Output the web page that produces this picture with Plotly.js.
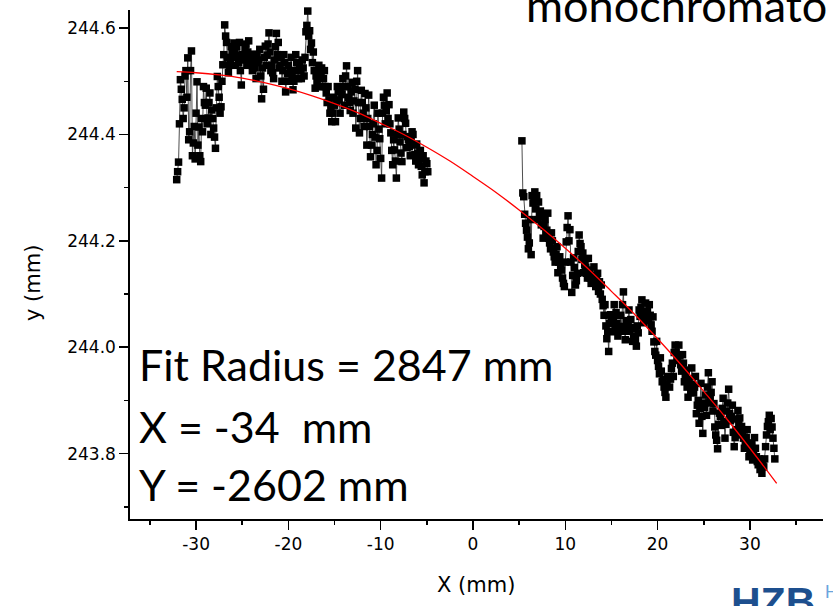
<!DOCTYPE html>
<html>
<head>
<meta charset="utf-8">
<script src="https://cdn.plot.ly/plotly-3.0.1.min.js"></script>
<style>html,body{margin:0;padding:0;background:#fff;}#chart{width:833px;height:606px;}</style>
</head>
<body>
<div id="chart"></div>
<script>
// Left scan segment (X in mm, y in mm)
const leftX = [-32.1,-32.0,-31.9,-31.8,-31.7,-31.6,-31.5,-31.4,-31.3,-31.2,-31.1,-31.0,-30.9,-30.8,-30.7,-30.6,-30.5,-30.4,-30.3,-30.2,-30.1,-30.0,-29.9,-29.8,-29.7,-29.6,-29.5,-29.4,-29.3,-29.2,-29.1,-29.0,-28.9,-28.8,-28.7,-28.6,-28.5,-28.4,-28.3,-28.2,-28.1,-28.0,-27.9,-27.8,-27.7,-27.6,-27.5,-27.4,-27.3,-27.2,-27.1,-27.0,-26.9,-26.8,-26.7,-26.6,-26.5,-26.4,-26.3,-26.2,-26.1,-26.0,-25.9,-25.8,-25.7,-25.6,-25.5,-25.4,-25.3,-25.2,-25.1,-25.0,-24.9,-24.8,-24.7,-24.6,-24.5,-24.4,-24.3,-24.2,-24.1,-24.0,-23.9,-23.8,-23.7,-23.6,-23.5,-23.4,-23.3,-23.2,-23.1,-23.0,-22.9,-22.8,-22.7,-22.6,-22.5,-22.4,-22.3,-22.2,-22.1,-22.0,-21.9,-21.8,-21.7,-21.6,-21.5,-21.4,-21.3,-21.2,-21.1,-21.0,-20.9,-20.8,-20.7,-20.6,-20.5,-20.4,-20.3,-20.2,-20.1,-20.0,-19.9,-19.8,-19.7,-19.6,-19.5,-19.4,-19.3,-19.2,-19.1,-19.0,-18.9,-18.8,-18.7,-18.6,-18.5,-18.4,-18.3,-18.2,-18.1,-18.0,-17.9,-17.8,-17.7,-17.6,-17.5,-17.4,-17.3,-17.2,-17.1,-17.0,-16.9,-16.8,-16.7,-16.6,-16.5,-16.4,-16.3,-16.2,-16.1,-16.0,-15.9,-15.8,-15.7,-15.6,-15.5,-15.4,-15.3,-15.2,-15.1,-15.0,-14.9,-14.8,-14.7,-14.6,-14.5,-14.4,-14.3,-14.2,-14.1,-14.0,-13.9,-13.8,-13.7,-13.6,-13.5,-13.4,-13.3,-13.2,-13.1,-13.0,-12.9,-12.8,-12.7,-12.6,-12.5,-12.4,-12.3,-12.2,-12.1,-12.0,-11.9,-11.8,-11.7,-11.6,-11.5,-11.4,-11.3,-11.2,-11.1,-11.0,-10.9,-10.8,-10.7,-10.6,-10.5,-10.4,-10.3,-10.2,-10.1,-10.0,-9.9,-9.8,-9.7,-9.6,-9.5,-9.4,-9.3,-9.2,-9.1,-9.0,-8.9,-8.8,-8.7,-8.6,-8.5,-8.4,-8.3,-8.2,-8.1,-8.0,-7.9,-7.8,-7.7,-7.6,-7.5,-7.4,-7.3,-7.2,-7.1,-7.0,-6.9,-6.8,-6.7,-6.6,-6.5,-6.4,-6.3,-6.2,-6.1,-6.0,-5.9,-5.8,-5.7,-5.6,-5.5,-5.4,-5.3,-5.2,-5.1,-5.0,-4.9];
const leftY = [244.315,244.33,244.348,244.42,244.503,244.485,244.466,244.43,244.45,244.51,244.52,244.47,244.544,244.39,244.405,244.52,244.557,244.36,244.384,244.415,244.354,244.44,244.499,244.38,244.414,244.36,244.349,244.43,244.405,244.49,244.46,244.455,244.487,244.42,244.431,244.46,244.478,244.4,244.446,244.43,244.412,244.395,244.374,244.45,244.509,244.49,244.47,244.44,244.452,244.5,244.531,244.55,244.606,244.585,244.573,244.545,244.516,244.53,244.54,244.565,244.556,244.545,244.572,244.555,244.53,244.565,244.548,244.535,244.573,244.52,244.493,244.55,244.54,244.545,244.562,244.57,244.53,244.555,244.576,244.535,244.545,244.53,244.52,244.54,244.551,244.525,244.505,244.55,244.535,244.54,244.56,244.51,244.467,244.525,244.485,244.545,244.566,244.53,244.549,244.57,244.591,244.555,244.52,244.53,244.516,244.505,244.54,244.565,244.59,244.55,244.573,244.525,244.53,244.545,244.5,244.52,244.55,244.535,244.48,244.5,244.515,244.53,244.5,244.52,244.545,244.51,244.484,244.5,244.52,244.55,244.535,244.52,244.505,244.53,244.52,244.505,244.54,244.525,244.51,244.545,244.593,244.605,244.632,244.585,244.595,244.56,244.572,244.535,244.555,244.52,244.487,244.51,244.5,244.515,244.53,244.49,244.51,244.525,244.49,244.505,244.52,244.49,244.478,244.46,244.49,244.465,244.44,244.45,244.424,244.44,244.47,244.455,244.424,244.46,244.49,244.48,244.465,244.44,244.486,244.475,244.505,244.49,244.455,244.51,244.529,244.49,244.47,244.46,244.445,244.48,244.498,244.44,244.463,244.485,244.412,244.5,244.52,244.46,244.403,244.43,244.483,244.46,244.44,244.415,244.477,244.45,244.38,244.43,244.474,244.415,244.358,244.38,244.4,244.42,244.455,244.395,244.343,244.37,244.44,244.41,244.392,244.355,244.318,244.44,244.47,244.455,244.42,244.445,244.478,244.43,244.456,244.42,244.403,244.37,244.343,244.39,244.371,244.35,244.318,244.4,244.431,244.41,244.386,244.365,244.349,244.4,244.442,244.43,244.421,244.375,244.396,244.39,244.377,244.36,244.388,244.405,244.40,244.38,244.362,244.35,244.382,244.365,244.343,244.355,244.37,244.34,244.324,244.36,244.309,244.33,244.35,244.345,244.33];
// Right scan segment
const rightX = [5.3,5.4,5.5,5.6,5.7,5.8,5.9,6.0,6.1,6.2,6.3,6.4,6.5,6.6,6.7,6.8,6.9,7.0,7.1,7.2,7.3,7.4,7.5,7.6,7.7,7.8,7.9,8.0,8.1,8.2,8.3,8.4,8.5,8.6,8.7,8.8,8.9,9.0,9.1,9.2,9.3,9.4,9.5,9.6,9.7,9.8,9.9,10.0,10.1,10.2,10.3,10.4,10.5,10.6,10.7,10.8,10.9,11.0,11.1,11.2,11.3,11.4,11.5,11.6,11.7,11.8,11.9,12.0,12.1,12.2,12.3,12.4,12.5,12.6,12.7,12.8,12.9,13.0,13.1,13.2,13.3,13.4,13.5,13.6,13.7,13.8,13.9,14.0,14.1,14.2,14.3,14.4,14.5,14.6,14.7,14.8,14.9,15.0,15.1,15.2,15.3,15.4,15.5,15.6,15.7,15.8,15.9,16.0,16.1,16.2,16.3,16.4,16.5,16.6,16.7,16.8,16.9,17.0,17.1,17.2,17.3,17.4,17.5,17.6,17.7,17.8,17.9,18.0,18.1,18.2,18.3,18.4,18.5,18.6,18.7,18.8,18.9,19.0,19.1,19.2,19.3,19.4,19.5,19.6,19.7,19.8,19.9,20.0,20.1,20.2,20.3,20.4,20.5,20.6,20.7,20.8,20.9,21.0,21.1,21.2,21.3,21.4,21.5,21.6,21.7,21.8,21.9,22.0,22.1,22.2,22.3,22.4,22.5,22.6,22.7,22.8,22.9,23.0,23.1,23.2,23.3,23.4,23.5,23.6,23.7,23.8,23.9,24.0,24.1,24.2,24.3,24.4,24.5,24.6,24.7,24.8,24.9,25.0,25.1,25.2,25.3,25.4,25.5,25.6,25.7,25.8,25.9,26.0,26.1,26.2,26.3,26.4,26.5,26.6,26.7,26.8,26.9,27.0,27.1,27.2,27.3,27.4,27.5,27.6,27.7,27.8,27.9,28.0,28.1,28.2,28.3,28.4,28.5,28.6,28.7,28.8,28.9,29.0,29.1,29.2,29.3,29.4,29.5,29.6,29.7,29.8,29.9,30.0,30.1,30.2,30.3,30.4,30.5,30.6,30.7,30.8,30.9,31.0,31.1,31.2,31.3,31.4,31.5,31.6,31.7,31.8,31.9,32.0,32.1,32.2,32.3,32.4,32.5,32.6,32.7];
const rightY = [244.388,244.29,244.283,244.25,244.233,244.22,244.207,244.185,244.196,244.24,244.174,244.285,244.271,244.275,244.292,244.26,244.285,244.24,244.273,244.25,244.256,244.23,244.245,244.205,244.227,244.24,244.215,244.22,244.252,244.205,244.196,244.185,244.215,244.2,244.179,244.17,244.16,244.175,244.189,244.14,244.16,244.17,244.151,244.145,244.13,244.12,244.114,244.16,244.198,244.225,244.247,244.2,244.221,244.16,244.103,244.135,244.168,244.15,244.117,244.125,244.139,244.18,244.211,244.195,244.189,244.165,244.177,244.14,244.155,244.15,244.139,244.13,244.167,244.145,244.13,244.12,244.121,244.135,244.151,244.13,244.114,244.125,244.139,244.105,244.123,244.1,244.117,244.09,244.078,244.06,244.08,244.04,244.016,244.03,243.992,244.045,244.061,244.05,244.029,244.055,244.08,244.04,244.065,244.045,244.021,244.03,244.037,244.06,244.039,244.08,244.104,244.03,244.014,244.05,244.039,244.045,244.07,244.03,244.052,244.035,244.011,244.02,244.037,244.015,244.002,244.04,244.027,244.07,244.058,244.075,244.089,244.06,244.046,244.065,244.083,244.055,244.067,244.05,244.08,244.06,244.042,244.03,244.057,244.01,243.992,243.985,244.011,243.975,243.964,243.95,243.98,243.955,243.935,243.94,243.925,243.915,243.906,243.93,243.944,243.945,243.925,243.94,243.96,243.97,243.945,243.99,244.004,243.99,243.982,243.975,244.004,243.985,243.967,243.955,243.986,243.97,243.935,243.945,243.957,243.925,243.906,243.94,243.929,243.915,243.961,243.93,243.914,243.925,243.945,243.875,243.891,243.9,243.857,243.885,243.932,243.87,243.838,243.895,243.887,243.91,243.872,243.925,243.952,243.895,243.906,243.915,243.935,243.88,243.894,243.85,243.835,243.825,243.809,243.855,243.876,243.87,243.853,243.885,243.904,243.86,243.829,243.855,243.88,243.895,243.921,243.875,243.862,243.87,243.891,243.84,243.813,243.83,243.845,243.865,243.881,243.855,243.867,243.835,243.851,243.84,243.829,243.81,243.82,243.83,243.845,243.815,243.794,243.8,243.811,243.82,243.788,243.805,243.83,243.81,243.794,243.785,243.779,243.79,243.77,243.775,243.763,243.78,243.775,243.79,243.813,243.835,243.851,243.86,243.872,243.845,243.866,243.85,243.829,243.81,243.79];
const fitX = [-32.1,-30,-27.5,-25,-22.5,-20,-17.5,-15,-12.5,-10,-7.5,-5,-2.5,0,2.5,5,7.5,10,12.5,15,17.5,20,22.5,25,27.5,30,32.9];
const fitY = [244.518,244.516,244.512,244.506,244.497,244.486,244.473,244.458,244.441,244.421,244.400,244.376,244.350,244.321,244.291,244.258,244.223,244.186,244.147,244.105,244.062,244.016,243.968,243.917,243.865,243.810,243.744];

// tick labels
const xTickVals = [-30, -20, -10, 0, 10, 20, 30];
const xTickText = ['-30', '-20', '-10', '0', '10', '20', '30'];
const yTickVals = [243.8, 244.0, 244.2, 244.4, 244.6];
const yTickText = ['243.8', '244.0', '244.2', '244.4', '244.6'];

const xTitle = 'X (mm)';
const yTitle = 'y (mm)';
const fitLines = ['Fit Radius = 2847 mm', 'X = -34\u00A0 mm', 'Y = -2602 mm'];
const headText = 'monochromato';

// plot area in pixels
const L = 130, R = 823, T = 10, B = 519;
const px = v => (v - L) / (R - L);
const py = v => (B - v) / (B - T);

const dataStyle = {
  mode: 'lines+markers', type: 'scatter', hoverinfo: 'skip', cliponaxis: false,
  marker: {symbol: 'square', size: 7.5, color: '#000'},
  line: {color: '#3a3a3a', width: 0.9}
};
const traces = [
  Object.assign({x: leftX, y: leftY}, dataStyle),
  Object.assign({x: rightX, y: rightY}, dataStyle),
  {x: fitX, y: fitY, mode: 'lines', type: 'scatter', hoverinfo: 'skip',
   line: {color: '#ff0000', width: 1.3, shape: 'spline'}}
];

const bigFont = {family: 'Lato', size: 43, color: '#000'};
const layout = {
  width: 833, height: 606,
  margin: {l: L, r: 833 - R, t: T, b: 606 - B},
  paper_bgcolor: '#fff', plot_bgcolor: '#fff',
  showlegend: false,
  xaxis: {
    range: [-37.16, 37.92], tickmode: 'array', tickvals: xTickVals, ticktext: xTickText,
    showgrid: false, zeroline: false, showline: true, linecolor: '#000', linewidth: 1.7,
    ticks: 'outside', ticklen: 9, tickwidth: 1.5, tickcolor: '#000',
    tickfont: {family: 'DejaVu Sans', size: 17, color: '#000'},
    minor: {dtick: 5, tick0: 0, ticks: 'outside', ticklen: 4, tickwidth: 1.5, tickcolor: '#000', showgrid: false}
  },
  yaxis: {
    range: [243.677, 244.634], tickmode: 'array', tickvals: yTickVals, ticktext: yTickText,
    showgrid: false, zeroline: false, showline: true, linecolor: '#000', linewidth: 1.7,
    ticks: 'outside', ticklen: 9, tickwidth: 1.5, tickcolor: '#000',
    tickfont: {family: 'DejaVu Sans', size: 17, color: '#000'},
    minor: {dtick: 0.1, tick0: 243.8, ticks: 'outside', ticklen: 4, tickwidth: 1.5, tickcolor: '#000', showgrid: false}
  },
  annotations: [
    {text: xTitle, xref: 'paper', yref: 'paper', x: px(476), y: py(585), xanchor: 'center', yanchor: 'middle', showarrow: false, font: {family: 'DejaVu Sans', size: 21, color: '#000'}},
    {text: yTitle, xref: 'paper', yref: 'paper', x: px(33), y: py(283), xanchor: 'center', yanchor: 'middle', textangle: -90, showarrow: false, font: {family: 'DejaVu Sans', size: 21, color: '#000'}},
    {text: fitLines[0], xref: 'paper', yref: 'paper', x: px(137), y: py(365), xanchor: 'left', yanchor: 'middle', showarrow: false, font: bigFont},
    {text: fitLines[1], xref: 'paper', yref: 'paper', x: px(137), y: py(426), xanchor: 'left', yanchor: 'middle', showarrow: false, font: bigFont},
    {text: fitLines[2], xref: 'paper', yref: 'paper', x: px(137), y: py(484), xanchor: 'left', yanchor: 'middle', showarrow: false, font: bigFont},
    {text: headText, xref: 'paper', yref: 'paper', x: px(524), y: py(5), xanchor: 'left', yanchor: 'middle', showarrow: false, font: {family: 'Lato', size: 45, color: '#000'}},
    {text: '<b>HZB</b>', xref: 'paper', yref: 'paper', x: px(729), y: py(577), xanchor: 'left', yanchor: 'top', showarrow: false, font: {family: 'Liberation Sans', size: 41, color: '#1d4f8e'}},
    {text: 'H', xref: 'paper', yref: 'paper', x: px(823), y: py(580), xanchor: 'left', yanchor: 'top', showarrow: false, font: {family: 'Liberation Sans', size: 18, color: '#6aa5dd'}}
  ]
};

Plotly.newPlot('chart', traces, layout, {staticPlot: true, displayModeBar: false});
</script>
</body>
</html>
